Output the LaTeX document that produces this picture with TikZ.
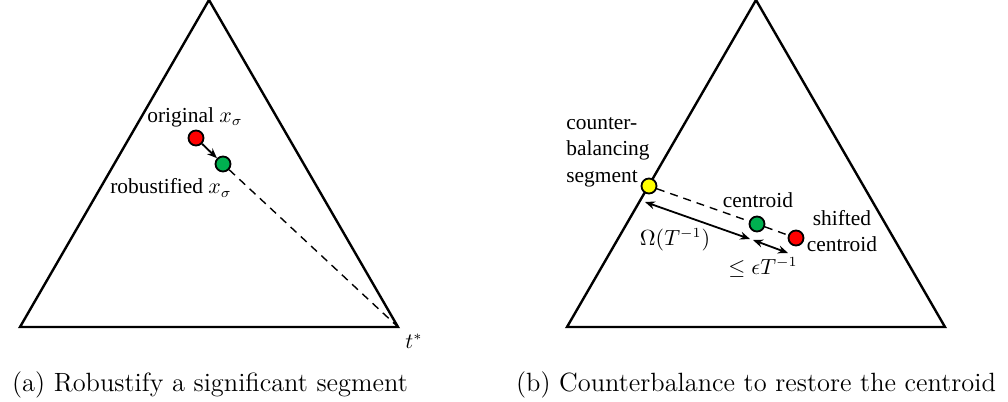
\documentclass[tikz,border=0pt]{standalone}
\usepackage{fontspec}
\usetikzlibrary{arrows.meta}
\newfontfamily\lblfont{Liberation Serif}
\definecolor{ptred}{RGB}{255,0,0}
\definecolor{ptgreen}{RGB}{0,176,80}
\definecolor{ptyellow}{RGB}{255,255,0}
\begin{document}
\begin{tikzpicture}[x=0.5pt,y=-0.5pt,
  tri/.style={line width=1.2pt,line join=miter},
  pt/.style={circle,draw=black,line width=0.9pt,minimum size=7.5pt,inner sep=0pt},
  dashline/.style={line width=0.7pt,dash pattern=on 4pt off 3pt},
  arr/.style={line width=0.9pt,-{Stealth[length=5pt,width=4pt]}},
  darr/.style={line width=0.9pt,{Stealth[length=5pt,width=4pt]}-{Stealth[length=5pt,width=4pt]}},
  lbl/.style={font=\lblfont\fontsize{10.7}{13.2}\selectfont,inner sep=0pt},
  captext/.style={font=\fontsize{13.2}{15}\selectfont,inner sep=0pt,anchor=base}]
\useasboundingbox (0,0) rectangle (1008,402);
% (a)
\coordinate (A1) at (209,0);
\coordinate (A2) at (20,327);
\coordinate (A3) at (398,327);
\draw[tri] (A1) -- (A2) -- (A3) -- cycle;
\node[pt,fill=ptred] (ra) at (196,138) {};
\node[pt,fill=ptgreen] (ga) at (223,164) {};
\draw[dashline] (ga) -- (A3);
\draw[arr] (ra) -- (ga);
\node[lbl] (lorig) at (195,117) {original $x_\sigma$};
\node[lbl] (lrob) at (171,188) {robustified $x_\sigma$};
\node[lbl] (lt) at (414,341) {$t^*$};
\node[captext] (capa) at (210,391) {(a) Robustify a significant segment};
% (b)
\coordinate (B1) at (756,0);
\coordinate (B2) at (567,327);
\coordinate (B3) at (945,327);
\draw[tri] (B1) -- (B2) -- (B3) -- cycle;
\node[pt,fill=ptyellow] (yb) at (649,186) {};
\node[pt,fill=ptgreen] (gb) at (757,224) {};
\node[pt,fill=ptred] (rb) at (796,238) {};
\draw[dashline] (yb) -- (gb);
\draw[dashline] (gb) -- (rb);
\coordinate (d1s) at (645,202);
\coordinate (d1e) at (750,239);
\coordinate (d2s) at (753,240);
\coordinate (d2e) at (788,253);
\draw[darr] (d1s) -- (d1e);
\draw[darr] (d2s) -- (d2e);
\node[lbl,align=left,anchor=west] (lcb) at (566,152) {counter-\\balancing\\segment};
\node[lbl] (lcen) at (758,200) {centroid};
\node[lbl,align=center] (lsh) at (842,231) {shifted\\centroid};
\node[lbl] (lom) at (675,240) {$\Omega(T^{-1})$};
\node[lbl] (leps) at (763,267) {$\leq \epsilon T^{-1}$};
\node[captext] (capb) at (756,391) {(b) Counterbalance to restore the centroid};
\end{tikzpicture}
\end{document}
